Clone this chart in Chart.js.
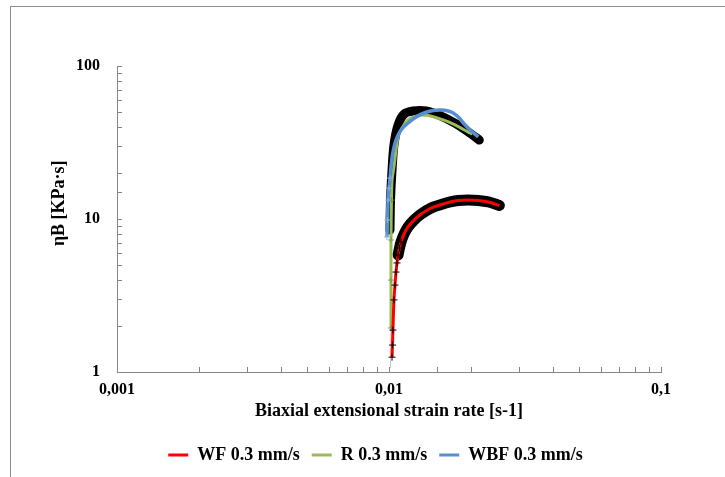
<!DOCTYPE html>
<html>
<head>
<meta charset="utf-8">
<script src="https://cdn.jsdelivr.net/npm/chart.js@4.4.1/dist/chart.umd.min.js"></script>
<style>
  html, body { margin: 0; padding: 0; background: #fff; }
  #wrap { position: relative; width: 725px; height: 477px; }
  #frame { position: absolute; left: 10px; top: 6px; right: 0; bottom: 0;
           border-left: 1px solid #8c8c8c; border-top: 1px solid #8c8c8c; pointer-events: none; }
  canvas { position: absolute; left: 0; top: 0; }
</style>
</head>
<body>
<div id="wrap">
  <canvas id="chart" width="725" height="477"></canvas>
  <div id="frame"></div>
</div>
<script>
// values
const wfX = [0.01026, 0.01030, 0.01034, 0.01043, 0.01052, 0.01061, 0.01070, 0.01080, 0.01093, 0.01107, 0.01136,
  0.01175, 0.01237, 0.01313, 0.01429, 0.01556, 0.01680, 0.01797, 0.01956, 0.02130, 0.02319, 0.02546];
const wfY = [1.25, 1.50, 1.88, 2.96, 3.70, 4.50, 5.16, 5.82, 6.46, 7.07, 7.98,
  8.87, 9.85, 10.78, 11.80, 12.44, 12.92, 13.21, 13.31, 13.21, 12.92, 12.26];

const rX = [0.01013, 0.01017, 0.01017, 0.01017, 0.01021, 0.01026, 0.01043, 0.01061, 0.01080, 0.01116,
  0.01175, 0.01237, 0.01313, 0.01393, 0.01466, 0.01582, 0.01693, 0.01828, 0.01956, 0.02025];
const rY = [1.06, 1.94, 3.99, 7.29, 13.3, 17.98, 21.9, 28.2, 34.4, 39.3,
  44.4, 46.4, 47.8, 47.5, 46.4, 44.4, 42.4, 39.6, 37.0, 35.9];

const wbfX = [0.00983, 0.00987, 0.00992, 0.01000, 0.01009, 0.01017, 0.01034, 0.01061, 0.01107, 0.01175,
  0.01258, 0.01346, 0.01454, 0.01556, 0.01651, 0.01722, 0.01813, 0.01891, 0.02007, 0.02130];
const wbfY = [7.63, 9.85, 13.3, 15.9, 18.5, 21.9, 27.4, 32.8, 38.2, 42.4,
  46.4, 49.3, 51.2, 51.6, 50.8, 49.3, 45.7, 41.8, 37.6, 34.4];

// dense black error bars behind the upper curves
const errTopX = [0.010085, 0.01013, 0.01026, 0.01043, 0.01080, 0.01136, 0.01226, 0.01369, 0.01556, 0.01767, 0.02007, 0.02148];
const errTopY = [8.47, 13.3, 20.9, 30.5, 41.2, 48.5, 50.8, 50.8, 47.1, 41.8, 35.9, 32.8];

const labels = ['WF 0.3 mm/s', 'R 0.3 mm/s', 'WBF 0.3 mm/s'];

const red = '#ff0000';
const green = '#9bbb59';
const blue = '#558ed5';
const axisGray = '#868686';
const serif = "'Liberation Serif', 'Times New Roman', serif";

function pts(xs, ys) {
  return xs.map((x, i) => ({ x: x, y: ys[i] }));
}

function decadeLabel(v) {
  const l = Math.log10(v);
  if (Math.abs(l - Math.round(l)) > 1e-6) return '';
  return String(+v.toPrecision(6)).replace('.', ',');
}

// tick marks pointing into the plot, like the original
const innerTicks = {
  id: 'innerTicks',
  beforeDatasetsDraw(chart) {
    const { ctx, chartArea, scales } = chart;
    ctx.save();
    ctx.strokeStyle = axisGray;
    ctx.lineWidth = 1;
    ctx.beginPath();
    scales.x.ticks.forEach(t => {
      const px = Math.round(scales.x.getPixelForValue(t.value)) + 0.5;
      ctx.moveTo(px, chartArea.bottom);
      ctx.lineTo(px, chartArea.bottom - 5);
    });
    scales.y.ticks.forEach(t => {
      const py = Math.round(scales.y.getPixelForValue(t.value)) + 0.5;
      ctx.moveTo(chartArea.left, py);
      ctx.lineTo(chartArea.left + 5, py);
    });
    ctx.stroke();
    ctx.restore();
  }
};

const tickFont = { family: serif, size: 16, weight: 'bold' };
const titleFont = { family: serif, size: 18, weight: 'bold' };

new Chart(document.getElementById('chart'), {
  type: 'scatter',
  data: {
    datasets: [
      {
        label: labels[0],
        data: pts(wfX, wfY),
        showLine: true,
        borderColor: red,
        backgroundColor: red,
        borderWidth: 3,
        tension: 0.3,
        order: 2,
        pointStyle: 'cross',
        pointRadius: ctx => (ctx.raw && ctx.raw.y < 7.5 ? 3.5 : 0),
        pointBorderColor: '#000',
        pointBorderWidth: 1
      },
      {
        label: labels[1],
        data: pts(rX, rY),
        showLine: true,
        borderColor: green,
        backgroundColor: green,
        borderWidth: 3,
        tension: 0.3,
        order: 2,
        segment: {
          borderColor: ctx => (ctx.p1.parsed.y <= 2 ? '#c8c8c8' : undefined),
          borderWidth: ctx => (ctx.p1.parsed.y <= 2 ? 1 : undefined)
        },
        pointStyle: 'cross',
        pointRadius: ctx => (ctx.raw && ctx.raw.y > 1.5 && ctx.raw.y < 14 ? 3 : 0),
        pointBorderColor: '#7f9a48',
        pointBorderWidth: 1
      },
      {
        label: labels[2],
        data: pts(wbfX, wbfY),
        showLine: true,
        borderColor: blue,
        backgroundColor: blue,
        borderWidth: 3.5,
        tension: 0.3,
        order: 1,
        pointStyle: 'cross',
        pointRadius: ctx => (ctx.raw && ctx.raw.y < 20 ? 3 : 0),
        pointBorderColor: '#8db4e2',
        pointBorderWidth: 1
      },
      {
        label: '',
        data: pts(errTopX, errTopY),
        showLine: true,
        borderColor: '#000',
        backgroundColor: '#000',
        borderWidth: 9,
        borderCapStyle: 'round',
        borderJoinStyle: 'round',
        tension: 0.3,
        order: 3,
        pointRadius: 0
      },
      {
        label: '',
        data: pts(wfX.slice(7), wfY.slice(7)),
        showLine: true,
        borderColor: '#000',
        backgroundColor: '#000',
        borderWidth: 11,
        borderCapStyle: 'round',
        borderJoinStyle: 'round',
        tension: 0.3,
        order: 3,
        pointRadius: 0
      }
    ]
  },
  options: {
    responsive: false,
    animation: false,
    devicePixelRatio: 1,
    layout: { padding: { top: 66, right: 64, bottom: 3, left: 0 } },
    plugins: {
      tooltip: { enabled: false },
      legend: {
        position: 'bottom',
        fullSize: false,
        labels: {
          boxWidth: 20,
          boxHeight: 3,
          padding: 12,
          color: '#000',
          font: titleFont,
          filter: item => item.datasetIndex < 3,
          sort: (a, b) => a.datasetIndex - b.datasetIndex,
          generateLabels(chart) {
            const items = Chart.defaults.plugins.legend.labels.generateLabels(chart);
            items.forEach(it => { it.lineWidth = 0; });
            // pad the last entry so the row sits a little left of the plot centre
            const last = items.find(it => it.datasetIndex === 2);
            if (last) last.text += '\u00a0\u00a0\u00a0\u00a0\u00a0\u00a0';
            return items;
          }
        }
      }
    },
    scales: {
      x: {
        type: 'logarithmic',
        min: 0.001,
        max: 0.1,
        border: { color: axisGray },
        grid: { drawOnChartArea: false, drawTicks: false },
        ticks: {
          autoSkip: false,
          maxRotation: 0,
          padding: 8,
          color: '#000',
          font: tickFont,
          callback: v => decadeLabel(v)
        },
        title: {
          display: true,
          text: 'Biaxial extensional strain rate [s-1]',
          color: '#000',
          font: titleFont,
          padding: { top: 0, bottom: 12 }
        },
        afterFit: s => { s.height = 62; }
      },
      y: {
        type: 'logarithmic',
        min: 1,
        max: 100,
        border: { color: axisGray },
        grid: { drawOnChartArea: false, drawTicks: false },
        ticks: {
          autoSkip: false,
          padding: 17,
          color: '#000',
          font: tickFont,
          callback: v => decadeLabel(v)
        },
        title: {
          display: true,
          text: '\u00a0\u00a0\u00a0\u00a0\u00a0\u00a0\u00a0ηB [KPa·s]',
          color: '#000',
          font: titleFont,
          padding: { top: 49, bottom: 0 }
        },
        afterFit: s => { s.width = 117; }
      }
    }
  },
  plugins: [innerTicks]
});
</script>
</body>
</html>
